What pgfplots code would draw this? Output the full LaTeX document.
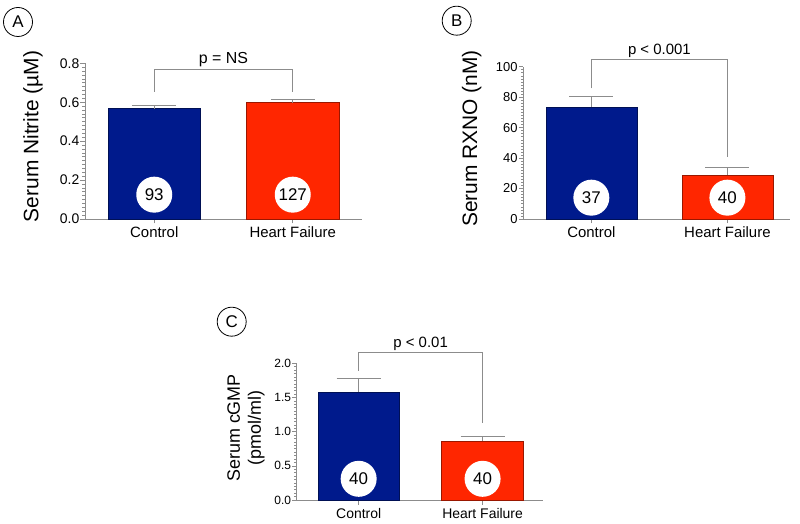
\documentclass[border=0pt]{standalone}
\usepackage{pgfplots}
\pgfplotsset{compat=1.18}
\usepackage{fontspec}
\setmainfont{Liberation Sans}
\definecolor{barblue}{RGB}{0,26,140}
\definecolor{barred}{RGB}{255,38,0}
\definecolor{axgray}{RGB}{140,140,140}
\newcommand{\fs}[1]{\fontsize{#1}{#1}\selectfont}
\pgfplotsset{
  panel/.style={
    scale only axis,
    axis x line=bottom, axis y line=left,
    axis line style={axgray, line width=0.8bp, -},
    xmin=-0.5, ymin=0,
    xtick={0,1}, xticklabels={Control, Heart Failure},
    tick style={axgray, line width=0.6bp},
    major tick length=4.5bp, minor tick length=2.5bp,
    tick align=outside,
    minor y tick num=9,
    minor x tick num=0,
    /pgf/number format/assume math mode=true,
    clip=false,
    yticklabel style={inner sep=1bp},
  },
  errs/.style={
    error bars/y dir=plus, error bars/y explicit,
    error bars/error bar style={axgray, line width=0.8bp},
    error bars/error mark options={axgray, rotate=90, mark size=22bp, line width=0.8bp}},
  bl/.style={ybar, bar width=0.67, bar shift=0pt, fill=barblue, draw=barblue!60!black, line width=0.5bp, errs},
  rd/.style={ybar, bar width=0.67, bar shift=0pt, fill=barred, draw=barred!60!black, line width=0.5bp, errs},
  nlab/.style={draw=none, mark=none, nodes near coords, point meta=explicit symbolic,
    nodes near coords style={circle, fill=white, draw=none, minimum size=36bp, inner sep=0pt, anchor=center, font=\fs{17}, text=black}},
  brk/.style={axgray, line width=0.8bp, mark=none},
}
\begin{document}
\begin{tikzpicture}
\useasboundingbox (0,0) rectangle (800bp,524bp);
% Panel A
\begin{axis}[panel, at={(85bp,305bp)}, anchor=south west,
  width=277bp, height=155.7bp, xmax=1.5, ymax=0.8,
  ytick={0,0.2,0.4,0.6,0.8},
  yticklabel style={font=\fs{14}, /pgf/number format/fixed, /pgf/number format/fixed zerofill, /pgf/number format/precision=1},
  xticklabel style={font=\fs{15}},
  ylabel={Serum Nitrite (µM)},
  ylabel style={at={(axis description cs:-0.188,0.53)}, anchor=center, font=\fs{21}},
]
\addplot[bl] coordinates {(0,0.567) +- (0,0.017)};
\addplot[rd] coordinates {(1,0.598) +- (0,0.017)};
\addplot[nlab] coordinates {(0,0.125)[93] (1,0.125)[127]};
\addplot[brk] coordinates {(0,0.654) (0,0.771) (1,0.771) (1,0.654)};
\node[anchor=south, inner sep=2bp, font=\fs{16}] at (axis cs:0.5,0.771) {p = NS};
\end{axis}
% Panel B
\begin{axis}[panel, at={(523.3bp,305bp)}, anchor=south west,
  width=266.7bp, height=152.3bp, xmax=1.46, ymax=100,
  ytick={0,20,40,60,80,100},
  yticklabel style={font=\fs{13}}, xticklabel style={font=\fs{15}},
  ylabel={Serum RXNO (nM)},
  ylabel style={at={(axis description cs:-0.193,0.529)}, anchor=center, font=\fs{21}},
]
\addplot[bl] coordinates {(0,73.5) +- (0,6.8)};
\addplot[rd] coordinates {(1,28.9) +- (0,5.0)};
\addplot[nlab] coordinates {(0,14)[37] (1,14)[40]};
\addplot[brk] coordinates {(0,85.8) (0,104.8) (1,104.8) (1,40.9)};
\node[anchor=south, inner sep=2bp, font=\fs{15}] at (axis cs:0.5,104.8) {p < 0.001};
\end{axis}
% Panel C
\begin{axis}[panel, at={(296.7bp,24bp)}, anchor=south west,
  width=246.6bp, height=136.7bp, xmax=1.49, ymax=2,
  ytick={0,0.5,1,1.5,2},
  yticklabel style={font=\fs{12}, /pgf/number format/fixed, /pgf/number format/fixed zerofill, /pgf/number format/precision=1},
  xticklabel style={font=\fs{14}},
  ylabel={Serum cGMP\\(pmol/ml)},
  ylabel style={at={(axis description cs:-0.206,0.527)}, anchor=center, align=center, font=\fontsize{18}{21}\selectfont},
]
\addplot[bl, bar width=0.66] coordinates {(0,1.58) +- (0,0.20)};
\addplot[rd, bar width=0.66] coordinates {(1,0.863) +- (0,0.073)};
\addplot[nlab] coordinates {(0,0.31)[40] (1,0.31)[40]};
\addplot[brk] coordinates {(0,1.89) (0,2.16) (1,2.16) (1,1.13)};
\node[anchor=south, inner sep=2bp, font=\fs{15}] at (axis cs:0.5,2.16) {p < 0.01};
\end{axis}
% panel letters
\node[circle, draw, line width=0.8bp, minimum size=29bp, inner sep=0pt, font=\fs{17}] at (18bp,502bp) {A};
\node[circle, draw, line width=0.8bp, minimum size=29bp, inner sep=0pt, font=\fs{17}] at (456.7bp,503.3bp) {B};
\node[circle, draw, line width=0.8bp, minimum size=29bp, inner sep=0pt, font=\fs{17}] at (231.7bp,202.3bp) {C};
\end{tikzpicture}
\end{document}
